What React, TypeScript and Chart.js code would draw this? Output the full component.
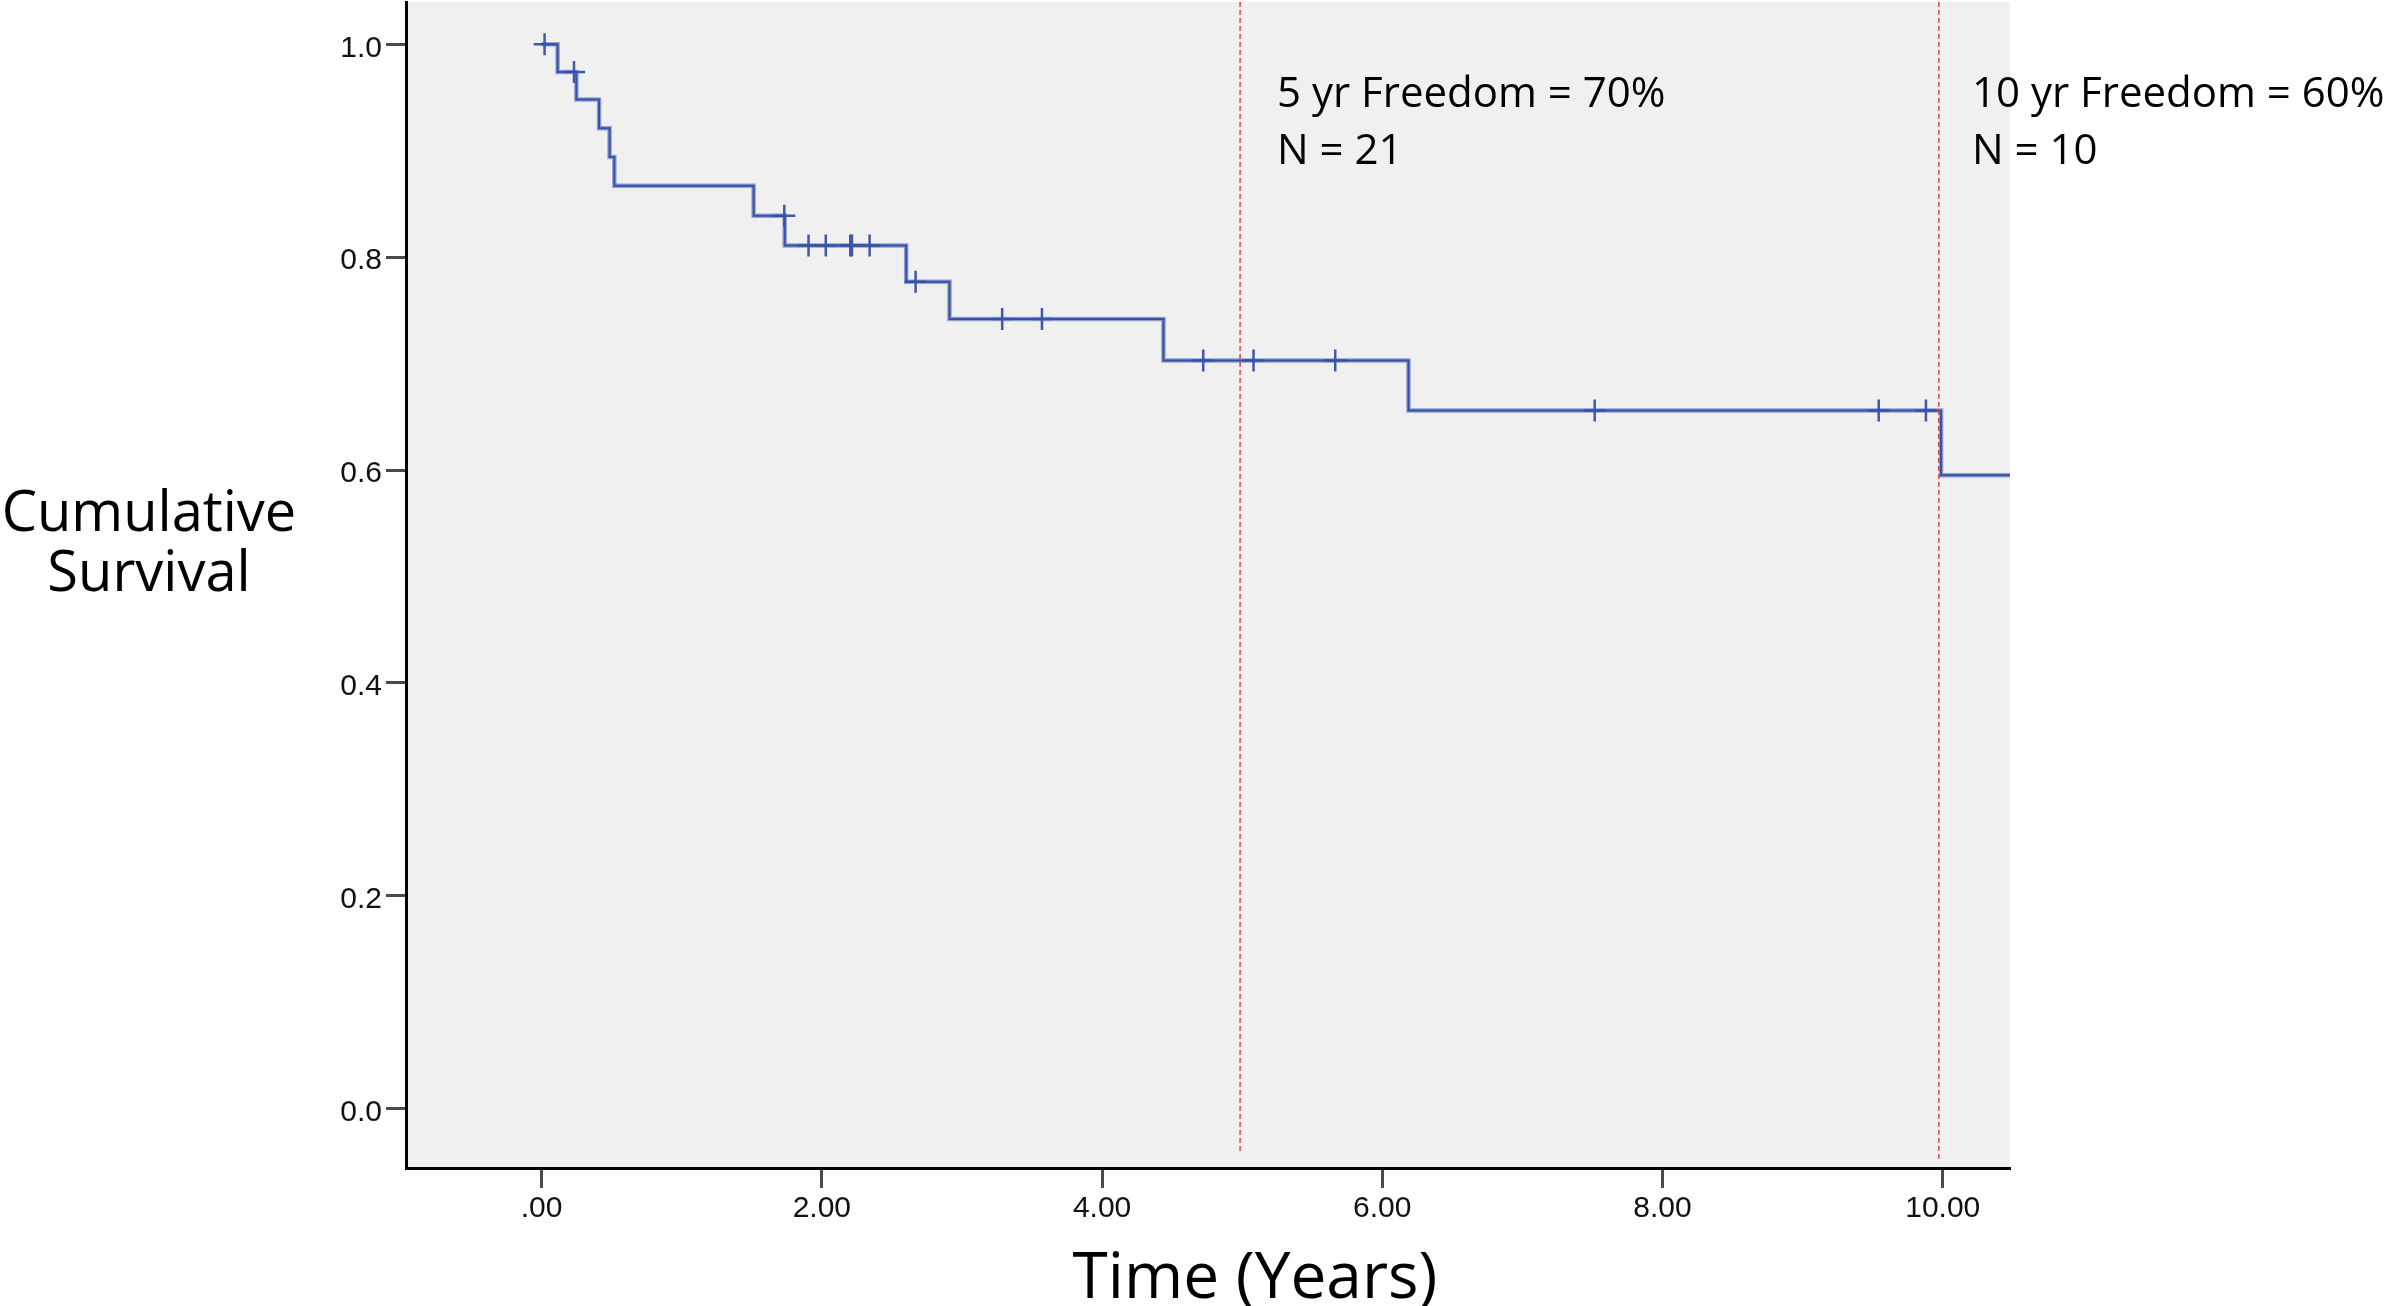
import React, { useEffect, useRef } from 'react';
import { Chart, registerables } from 'chart.js';

Chart.register(...registerables);

// Kaplan-Meier step curve (time in years, cumulative survival)
const eventTimes = [0, 0.114, 0.248, 0.41, 0.485, 0.519, 1.513, 1.735, 2.602, 2.911, 4.438, 6.187, 9.988, 10.48];
const survivalValues = [1.0, 0.974, 0.948, 0.921, 0.894, 0.867, 0.839, 0.811, 0.777, 0.742, 0.703, 0.656, 0.595, 0.595];

// Censored observations
const censorTimes = [0.021, 0.231, 1.732, 1.905, 2.028, 2.203, 2.215, 2.341, 2.669, 3.287, 3.571, 4.722, 5.081, 5.664, 7.516, 9.543, 9.88];
const censorValues = [1.0, 0.974, 0.839, 0.811, 0.811, 0.811, 0.811, 0.811, 0.777, 0.742, 0.742, 0.703, 0.703, 0.703, 0.656, 0.656, 0.656];

// Reference lines at 5 and 10 years
const refLineTimes = [4.985, 9.972];
const refLineBottoms = [-0.04, -0.047];

// Annotations
const annotationLines5 = ['5 yr Freedom = 70%', 'N = 21'];
const annotationLines10 = ['10 yr Freedom = 60%', 'N = 10'];

// Ticks
const xTickValues = [0, 2, 4, 6, 8, 10];
const xTickLabels = ['.00', '2.00', '4.00', '6.00', '8.00', '10.00'];
const yTickValues = [0, 0.2, 0.4, 0.6, 0.8, 1.0];
const yTickLabels = ['0.0', '0.2', '0.4', '0.6', '0.8', '1.0'];

const xTitle = 'Time (Years)';
const yTitleLines = ['Cumulative', 'Survival'];

const X_MIN = -0.968;
const X_MAX = 10.48;
const Y_MIN = -0.0557;
const Y_MAX = 1.0397;

const W = 2384;
const H = 1306;

export default function App() {
  const ref = useRef<HTMLCanvasElement | null>(null);

  useEffect(() => {
    if (!ref.current) return;

    const curve = eventTimes.map((t, i) => ({ x: t, y: survivalValues[i] }));
    const censors = censorTimes.map((t, i) => ({ x: t, y: censorValues[i] }));

    const refDatasets = refLineTimes.map((t, i) => ({
      type: 'line' as const,
      data: [
        { x: t, y: Y_MAX },
        { x: t, y: refLineBottoms[i] },
      ],
      borderColor: 'rgba(232, 45, 45, 0.9)',
      borderWidth: 1.5,
      borderDash: [5, 3],
      pointRadius: 0,
      fill: false,
      order: 0,
    }));

    const plugin = {
      id: 'kmDecor',
      beforeDraw(chart: any) {
        const { ctx, chartArea: a } = chart;
        ctx.save();
        ctx.fillStyle = '#F0F0F0';
        ctx.fillRect(a.left, a.top, a.right - a.left, a.bottom - a.top);
        ctx.restore();
      },
      afterDraw(chart: any) {
        const { ctx } = chart;
        ctx.save();
        ctx.fillStyle = '#000';
        ctx.textBaseline = 'alphabetic';

        ctx.font = '42px "Open Sans"';
        ctx.textAlign = 'left';
        annotationLines5.forEach((s, i) => ctx.fillText(s, 1277, 107 + i * 57));
        annotationLines10.forEach((s, i) => ctx.fillText(s, 1972, 107 + i * 57));

        ctx.font = '56px "Open Sans"';
        ctx.textAlign = 'center';
        yTitleLines.forEach((s, i) => ctx.fillText(s, 149, 531 + i * 60));

        ctx.font = '64px "Open Sans"';
        ctx.textAlign = 'center';
        ctx.fillText(xTitle, 1255, 1298);
        ctx.restore();
      },
    };

    const chart = new Chart(ref.current, {
      type: 'line',
      data: {
        datasets: [
          ...refDatasets,
          {
            type: 'line',
            data: curve,
            stepped: 'before',
            borderColor: '#3550A8',
            borderWidth: 2,
            pointRadius: 0,
            fill: false,
            order: 1,
          },
          {
            type: 'line',
            data: curve,
            stepped: 'before',
            borderColor: 'rgba(70, 95, 180, 0.55)',
            borderWidth: 4.5,
            pointRadius: 0,
            fill: false,
            order: 2,
          },
          {
            type: 'scatter',
            data: censors,
            pointStyle: 'cross',
            pointRadius: 11,
            pointBorderWidth: 2.5,
            pointBorderColor: '#3F58AE',
            pointBackgroundColor: '#3F58AE',
            order: 1,
          },
        ],
      } as any,
      plugins: [plugin],
      options: {
        responsive: false,
        animation: false,
        devicePixelRatio: 1,
        layout: { autoPadding: false, padding: { left: 0, right: W - 2010, top: 2, bottom: 0 } },
        plugins: {
          legend: { display: false },
          tooltip: { enabled: false },
          title: { display: false },
        },
        scales: {
          x: {
            type: 'linear',
            position: 'bottom',
            min: X_MIN,
            max: X_MAX,
            afterBuildTicks: (scale: any) => {
              scale.ticks = xTickValues.map((v) => ({ value: v }));
            },
            afterFit: (scale: any) => {
              scale.height = H - 1168;
              scale.paddingLeft = 0;
              scale.paddingRight = 0;
            },
            ticks: {
              autoSkip: false,
              maxRotation: 0,
              padding: 3,
              color: '#111',
              font: { family: '"Liberation Sans", Arial, sans-serif', size: 30 },
              callback: (_v: any, i: number) => xTickLabels[i],
            },
            grid: {
              drawOnChartArea: false,
              drawTicks: true,
              tickLength: 20,
              tickWidth: 3,
              tickColor: '#4a4a4a',
            },
            border: { display: true, color: '#000', width: 3 },
          },
          y: {
            type: 'linear',
            position: 'left',
            min: Y_MIN,
            max: Y_MAX,
            afterBuildTicks: (scale: any) => {
              scale.ticks = yTickValues.map((v) => ({ value: v }));
            },
            afterFit: (scale: any) => {
              scale.width = 406;
              scale.paddingTop = 0;
              scale.paddingBottom = 0;
            },
            ticks: {
              autoSkip: false,
              padding: 4,
              labelOffset: 4,
              color: '#111',
              font: { family: '"Liberation Sans", Arial, sans-serif', size: 30 },
              callback: (_v: any, i: number) => yTickLabels[i],
            },
            grid: {
              drawOnChartArea: false,
              drawTicks: true,
              tickLength: 20,
              tickWidth: 3,
              tickColor: '#4a4a4a',
            },
            border: { display: true, color: '#000', width: 3 },
          },
        },
      } as any,
    });

    return () => chart.destroy();
  }, []);

  return (
    <div style={{ position: 'fixed', left: 0, top: 0, width: W, height: H, background: '#fff' }}>
      <canvas ref={ref} width={W} height={H} style={{ display: 'block', width: W, height: H }} />
    </div>
  );
}
